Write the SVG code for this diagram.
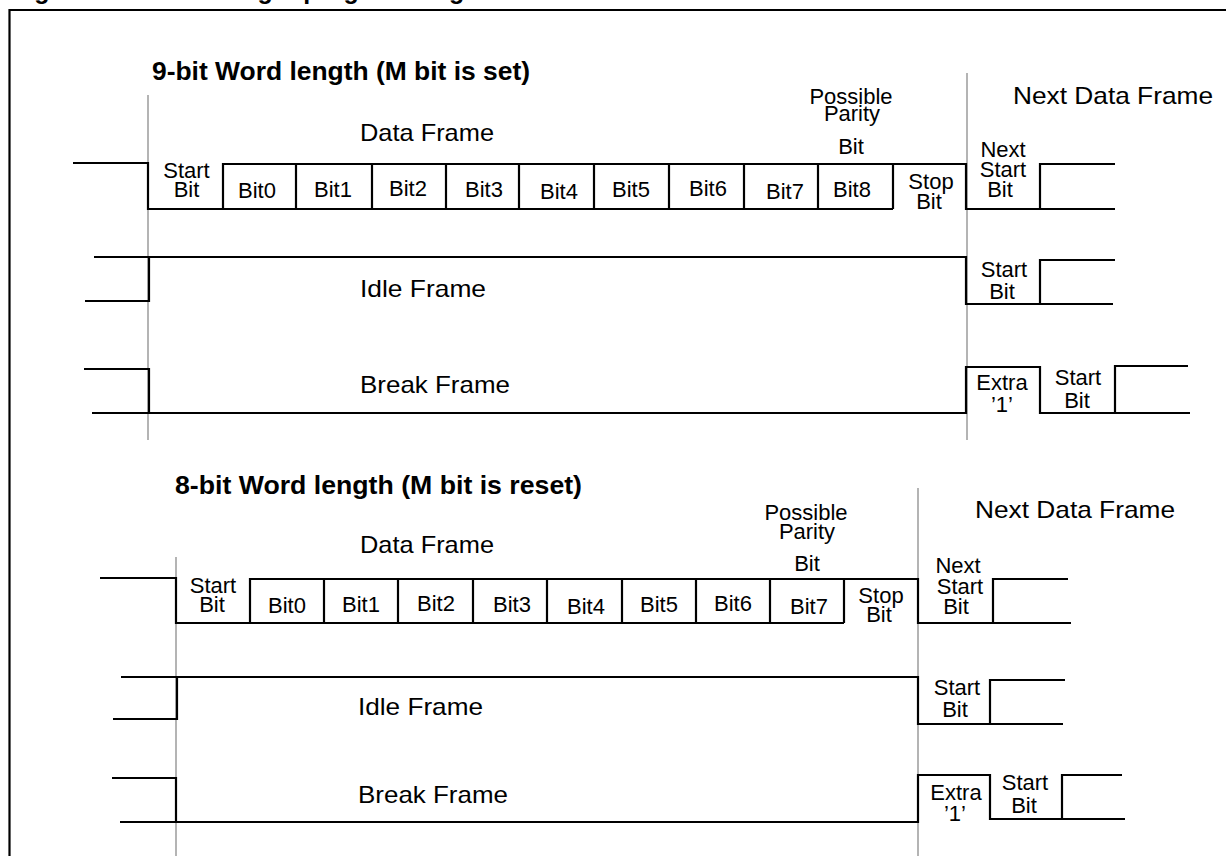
<svg xmlns="http://www.w3.org/2000/svg" width="1226" height="856" viewBox="0 0 1226 856">
<style>
.w{fill:none;stroke:#000;stroke-width:2.2;stroke-linejoin:miter}
.g{fill:none;stroke:#b4b4b4;stroke-width:2}
.t{font-family:"Liberation Sans",Arial,Helvetica,sans-serif;font-size:22px;fill:#000}
.c{text-anchor:middle}
.L{font-size:24px}
.h{font-size:25px;font-weight:bold}
</style>
<rect width="1226" height="856" fill="#fff"/>
<g id="caption">
<text class="t h" x="12" y="-1" font-size="23.5">Figure 280. Word length programming</text>
</g>
<g id="frame-border">
<path class="w" d="M9.5,856 V10 H1226" stroke-width="2.5"/>
</g>
<g id="markers">
<path class="g" d="M148,95 V440 M967,73 V440 M176,557 V856 M918,488 V856"/>
</g>
<g id="section-9bit">
<text class="t h" x="152" y="80" textLength="378" lengthAdjust="spacingAndGlyphs">9-bit Word length (M bit is set)</text>
<g id="data-frame-9">
<path class="w" d="M73,163 H148 V209 H893 M223,209 V164 H966 V209 H1115 M1040,209 V164 H1115 M296,164 V209 M372,164 V209 M446,164 V209 M519,164 V209 M594,164 V209 M669,164 V209 M744,164 V209 M818,164 V209 M893,164 V209"/>
<text class="t L" x="360" y="141" textLength="134" lengthAdjust="spacingAndGlyphs">Data Frame</text>
<text class="t c" x="186.5" y="178">Start</text>
<text class="t c" x="186.5" y="197">Bit</text>
<text class="t c" x="257" y="198">Bit0</text>
<text class="t c" x="333" y="197">Bit1</text>
<text class="t c" x="408" y="196">Bit2</text>
<text class="t c" x="484" y="197">Bit3</text>
<text class="t c" x="559" y="199">Bit4</text>
<text class="t c" x="631" y="197">Bit5</text>
<text class="t c" x="708" y="196">Bit6</text>
<text class="t c" x="785" y="199">Bit7</text>
<text class="t c" x="852" y="197">Bit8</text>
<text class="t c" x="851" y="104">Possible</text>
<text class="t c" x="852" y="121">Parity</text>
<text class="t c" x="851" y="154">Bit</text>
<text class="t c" x="931" y="189">Stop</text>
<text class="t c" x="929" y="209">Bit</text>
<text class="t c" x="1003" y="157">Next</text>
<text class="t c" x="1003" y="177">Start</text>
<text class="t c" x="1000" y="197">Bit</text>
<text class="t L" x="1013" y="104" textLength="200" lengthAdjust="spacingAndGlyphs">Next Data Frame</text>
</g>
<g id="idle-frame-9">
<path class="w" d="M85,301 H149 V257 M94,257 H966 V304 H1113 M1040,304 V260 H1115"/>
<text class="t L" x="360" y="297" textLength="126" lengthAdjust="spacingAndGlyphs">Idle Frame</text>
<text class="t c" x="1004" y="277">Start</text>
<text class="t c" x="1002" y="299">Bit</text>
</g>
<g id="break-frame-9">
<path class="w" d="M84,369 H149 V413 M92,413 H966 V367 H1040 V413 H1190 M1115,413 V366 H1188"/>
<text class="t L" x="360" y="393" textLength="150" lengthAdjust="spacingAndGlyphs">Break Frame</text>
<text class="t c" x="1002" y="390">Extra</text>
<text class="t c" x="1002" y="412">’1’</text>
<text class="t c" x="1078" y="385">Start</text>
<text class="t c" x="1077" y="408">Bit</text>
</g>
</g>
<g id="section-8bit">
<text class="t h" x="175" y="494" textLength="407" lengthAdjust="spacingAndGlyphs">8-bit Word length (M bit is reset)</text>
<g id="data-frame-8">
<path class="w" d="M100,578 H176 V623 H844 M250,623 V579 H918 V623 H1071 M993,623 V579 H1068 M324,579 V623 M398,579 V623 M473,579 V623 M547,579 V623 M622,579 V623 M696,579 V623 M770,579 V623 M844,579 V623"/>
<text class="t L" x="360" y="553" textLength="134" lengthAdjust="spacingAndGlyphs">Data Frame</text>
<text class="t c" x="213" y="593">Start</text>
<text class="t c" x="212" y="612">Bit</text>
<text class="t c" x="287" y="613">Bit0</text>
<text class="t c" x="361" y="612">Bit1</text>
<text class="t c" x="436" y="611">Bit2</text>
<text class="t c" x="512" y="612">Bit3</text>
<text class="t c" x="586" y="614">Bit4</text>
<text class="t c" x="659" y="612">Bit5</text>
<text class="t c" x="733" y="611">Bit6</text>
<text class="t c" x="809" y="614">Bit7</text>
<text class="t c" x="806" y="520">Possible</text>
<text class="t c" x="807" y="539">Parity</text>
<text class="t c" x="807" y="571">Bit</text>
<text class="t c" x="881" y="603">Stop</text>
<text class="t c" x="879" y="622">Bit</text>
<text class="t c" x="958" y="573">Next</text>
<text class="t c" x="960" y="594">Start</text>
<text class="t c" x="956" y="614">Bit</text>
<text class="t L" x="975" y="518" textLength="200" lengthAdjust="spacingAndGlyphs">Next Data Frame</text>
</g>
<g id="idle-frame-8">
<path class="w" d="M113,719 H177 V677 M121,677 H918 V724 H1063 M990,724 V680 H1065"/>
<text class="t L" x="358" y="715" textLength="125" lengthAdjust="spacingAndGlyphs">Idle Frame</text>
<text class="t c" x="957" y="695">Start</text>
<text class="t c" x="955" y="717">Bit</text>
</g>
<g id="break-frame-8">
<path class="w" d="M112,778 H176 V822 M120,822 H918 V775 H990 V819 H1125 M1062,819 V775 H1122"/>
<text class="t L" x="358" y="803" textLength="150" lengthAdjust="spacingAndGlyphs">Break Frame</text>
<text class="t c" x="956" y="800">Extra</text>
<text class="t c" x="955" y="821">’1’</text>
<text class="t c" x="1025" y="790">Start</text>
<text class="t c" x="1024" y="813">Bit</text>
</g>
</g>
</svg>
